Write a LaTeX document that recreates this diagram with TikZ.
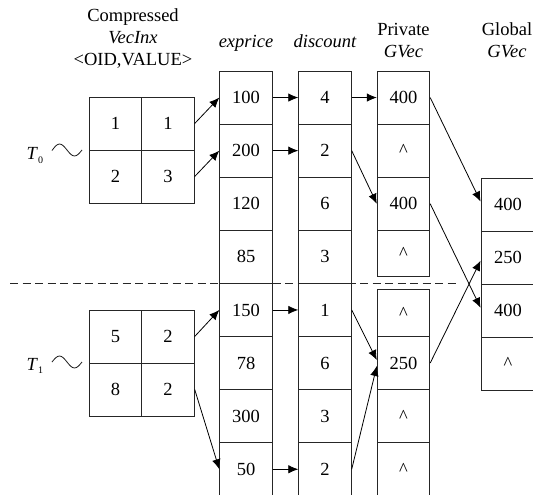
\documentclass[tikz,border=0pt]{standalone}
\usepackage{fontspec}
\setmainfont{Liberation Serif}
\usetikzlibrary{arrows.meta,calc}
\tikzset{conn/.style={-{Latex[length=10pt,width=8.5pt]}, line width=0.8pt, draw=black}}
\begin{document}
\begin{tikzpicture}[x=1pt,y=-1pt,
  font=\fontsize{18.5}{22}\selectfont,
  cell/.style={draw=black!85, line width=0.9pt, inner sep=0pt, minimum width=52.5pt, minimum height=53.1pt, text=black},
  shortcell/.style={cell, minimum height=46.6pt},
  gcell/.style={cell, minimum width=54pt},
  wave/.style={line width=0.8pt, draw=black!90},
  sep/.style={line width=0.8pt, draw=black!85, dash pattern=on 8pt off 4.5pt},
  title/.style={anchor=base, text=black, inner sep=0pt}
]
\useasboundingbox (0,0) rectangle (533,495);
\clip (0,0) rectangle (533,495);

% titles
\node[title] (tc1) at (133,22) {Compressed};
\node[title] (tc2) at (133,44) {\itshape VecInx};
\node[title] (tc3) at (133,66) {<OID,VALUE>};
\node[title] (tex) at (246,47.5) {\itshape exprice};
\node[title] (tdi) at (325,47.5) {\itshape discount};
\node[title] (tp1) at (403.5,36) {Private};
\node[title] (tp2) at (403.5,58) {\itshape GVec};
\node[title] (tg1) at (507,36) {Global};
\node[title] (tg2) at (507,58) {\itshape GVec};

% compressed VecInx T0
\node[cell] (a1) at (115.5,123.5) {1};
\node[cell] (a2) at (168,123.5) {1};
\node[cell] (a3) at (115.5,176.5) {2};
\node[cell] (a4) at (168,176.5) {3};
% compressed VecInx T1
\node[cell] (b1) at (115.5,336.5) {5};
\node[cell] (b2) at (168,336.5) {2};
\node[cell] (b3) at (115.5,389.5) {8};
\node[cell] (b4) at (168,389.5) {2};

% exprice
\node[cell] (e1) at (246,97.55) {100};
\node[cell] (e2) at (246,150.65) {200};
\node[cell] (e3) at (246,203.75) {120};
\node[cell] (e4) at (246,256.85) {85};
\node[cell] (e5) at (246,309.95) {150};
\node[cell] (e6) at (246,363.05) {78};
\node[cell] (e7) at (246,416.15) {300};
\node[cell] (e8) at (246,469.25) {50};

% discount
\node[cell] (d1) at (325,97.55) {4};
\node[cell] (d2) at (325,150.65) {2};
\node[cell] (d3) at (325,203.75) {6};
\node[cell] (d4) at (325,256.85) {3};
\node[cell] (d5) at (325,309.95) {1};
\node[cell] (d6) at (325,363.05) {6};
\node[cell] (d7) at (325,416.15) {3};
\node[cell] (d8) at (325,469.25) {2};

% private GVec
\node[cell] (p1) at (403.5,97.55) {400};
\node[cell] (p2) at (403.5,150.65) {\textasciicircum};
\node[cell] (p3) at (403.5,203.75) {400};
\node[shortcell] (p4) at (403.5,253.6) {\textasciicircum};
\node[shortcell] (q1) at (403.5,313.2) {\textasciicircum};
\node[cell] (q2) at (403.5,363.05) {250};
\node[cell] (q3) at (403.5,416.15) {\textasciicircum};
\node[cell] (q4) at (403.5,469.25) {\textasciicircum};

% global GVec
\node[gcell] (g1) at (508,204.55) {400};
\node[gcell] (g2) at (508,257.65) {250};
\node[gcell] (g3) at (508,310.75) {400};
\node[gcell] (g4) at (508,363.85) {\textasciicircum};

% T labels
\node[anchor=base west, inner sep=0pt, text=black] (T0) at (26.5,159.5) {\itshape T\/\raisebox{-3.5pt}{\upshape\fontsize{10}{10}\selectfont 0}};
\node[anchor=base west, inner sep=0pt, text=black] (T1) at (26.5,370) {\itshape T\/\raisebox{-3.5pt}{\upshape\fontsize{10}{10}\selectfont 1}};
\draw[wave] (52,150.5) sin (59.5,144) cos (67,150) sin (74.5,156) cos (82,150);
\draw[wave] (52,362) sin (59.5,356) cos (67,362) sin (74.5,368) cos (82,362);

% separator
\coordinate (dl) at (10,283.4);
\coordinate (dr) at (457,283.4);
\draw[sep] (dl) -- (dr);

% connectors
\draw[conn] (a2.east) -- (e1.west);
\draw[conn] (a4.east) -- (e2.west);
\draw[conn] (b2.east) -- (e5.west);
\draw[conn] (b4.east) -- (e8.west);
\draw[conn] (e1.east) -- (d1.west);
\draw[conn] (e2.east) -- (d2.west);
\draw[conn] (e5.east) -- (d5.west);
\draw[conn] (e8.east) -- (d8.west);
\draw[conn] (d1.east) -- (p1.west);
\draw[conn] (d2.east) -- (p3.west);
\draw[conn] (d5.east) -- ([yshift=3pt]q2.west);
\draw[conn] (d8.east) -- ([yshift=-3pt]q2.west);
\draw[conn] (p1.east) -- ([yshift=3pt]g1.west);
\draw[conn] (p3.east) -- ([yshift=3pt]g3.west);
\draw[conn] (q2.east) -- ([yshift=-3pt]g2.west);
\end{tikzpicture}
\end{document}
